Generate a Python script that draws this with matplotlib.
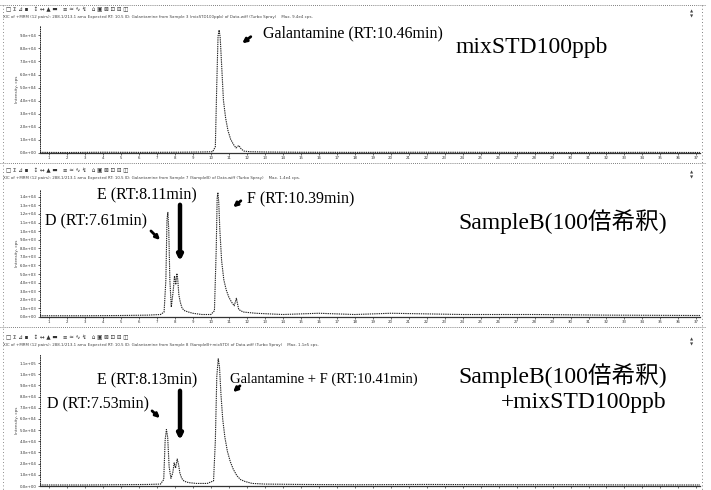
"""Scanned LC-MS/MS chromatograms: mixSTD100ppb, SampleB, SampleB + mixSTD (three stacked XICs)."""

import matplotlib
matplotlib.use("Agg")
import matplotlib.pyplot as plt
import numpy as np
from matplotlib.lines import Line2D
from matplotlib.patches import FancyArrowPatch

# ── Data (time in min, intensity as fraction of full scale) ──
TIME_1 = [0.5, 2.0, 4.0, 6.0, 8.0, 9.5, 10.1, 10.25, 10.33, 10.40, 10.46, 10.52, 10.60,
          10.70, 10.82, 10.95, 11.10, 11.25, 11.40, 11.55, 11.70, 11.85, 12.2, 13.0, 15.0,
          18.0, 22.0, 26.0, 30.0, 34.0, 37.2]
INT_1 = [0.005, 0.004, 0.006, 0.005, 0.006, 0.008, 0.01, 0.05, 0.55, 0.93, 0.98, 0.92, 0.70,
         0.42, 0.28, 0.18, 0.11, 0.07, 0.04, 0.06, 0.03, 0.015, 0.01, 0.008, 0.006,
         0.005, 0.006, 0.005, 0.004, 0.005, 0.004]

TIME_2 = [0.5, 3.0, 5.0, 6.5, 7.2, 7.40, 7.50, 7.56, 7.61, 7.66, 7.72, 7.80, 7.90, 7.98,
          8.05, 8.11, 8.16, 8.22, 8.30, 8.40, 8.55, 8.75, 9.0, 9.5, 10.0, 10.20, 10.30,
          10.35, 10.39, 10.44, 10.50, 10.60, 10.72, 10.85, 11.0, 11.15, 11.30, 11.42, 11.55,
          11.8, 12.5, 14.0, 16.0, 18.0, 20.0, 24.0, 28.0, 32.0, 37.2]
INT_2 = [0.01, 0.01, 0.012, 0.015, 0.02, 0.04, 0.30, 0.78, 0.84, 0.70, 0.30, 0.08, 0.20,
         0.33, 0.26, 0.35, 0.30, 0.18, 0.12, 0.07, 0.05, 0.04, 0.03, 0.02, 0.02, 0.05, 0.55,
         0.95, 1.00, 0.92, 0.70, 0.45, 0.30, 0.22, 0.16, 0.12, 0.09, 0.15, 0.06,
         0.04, 0.03, 0.02, 0.03, 0.02, 0.03, 0.02, 0.02, 0.015, 0.012]

TIME_3 = [0.5, 3.0, 5.0, 6.5, 7.2, 7.38, 7.46, 7.53, 7.60, 7.68, 7.78, 7.88, 7.96, 8.04,
          8.13, 8.20, 8.28, 8.38, 8.50, 8.65, 8.85, 9.2, 9.8, 10.15, 10.25, 10.33, 10.41,
          10.48, 10.56, 10.66, 10.78, 10.92, 11.08, 11.25, 11.45, 11.65, 11.9, 12.3, 13.0,
          15.0, 18.0, 22.0, 26.0, 30.0, 34.0, 37.2]
INT_3 = [0.008, 0.008, 0.01, 0.012, 0.015, 0.05, 0.36, 0.44, 0.38, 0.15, 0.06, 0.10, 0.18,
         0.14, 0.21, 0.17, 0.10, 0.06, 0.04, 0.03, 0.025, 0.02, 0.02, 0.04, 0.35, 0.85, 0.99,
         0.93, 0.72, 0.52, 0.38, 0.27, 0.19, 0.13, 0.08, 0.05, 0.035, 0.02, 0.015,
         0.012, 0.01, 0.012, 0.01, 0.01, 0.008, 0.008]

FULL_SCALE = [9.6e4, 1.45e4, 1.15e5]          # cps at top of each panel
Y_STEP = [1.0e4, 1.0e3, 1.0e4]

SAMPLE_LABELS = ["mixSTD100ppb", "SampleB(100倍希釈)", "SampleB(100倍希釈)\n+mixSTD100ppb"]
HEADERS = [
    "XIC of +MRM (12 pairs): 288.1/213.1 amu Expected RT: 10.5 ID: Galantamine from Sample 3 (mixSTD100ppb) of Data.wiff (Turbo Spray)    Max. 9.4e4 cps.",
    "XIC of +MRM (12 pairs): 288.1/213.1 amu Expected RT: 10.5 ID: Galantamine from Sample 7 (SampleB) of Data.wiff (Turbo Spray)    Max. 1.4e4 cps.",
    "XIC of +MRM (12 pairs): 288.1/213.1 amu Expected RT: 10.5 ID: Galantamine from Sample 8 (SampleB+mixSTD) of Data.wiff (Turbo Spray)    Max. 1.1e5 cps.",
]

W, H = 711, 490
SERIF = ["Liberation Serif", "Noto Sans CJK JP"]


def fx(x):
    return x / W


def fy(y):
    return 1 - y / H


fig = plt.figure(figsize=(W / 100, H / 100), dpi=100)
fig.patch.set_facecolor("white")

# panel boxes in pixels: (top of plot, baseline, header y)
boxes = [(25, 153, 10), (190, 317, 171), (355, 486, 338)]
series = [(TIME_1, INT_1), (TIME_2, INT_2), (TIME_3, INT_3)]

for k, ((top, base, head), (t, inten)) in enumerate(zip(boxes, series)):
    ax = fig.add_axes([fx(40), fy(base), fx(700) - fx(40), (base - top) / H])
    fs = FULL_SCALE[k]
    ax.plot(t, np.array(inten) * fs, color="#222222", lw=0.8, linestyle=(0, (1.2, 0.8)))
    ax.set_xlim(0.5, 37.2)
    ax.set_ylim(0, fs * 1.02)
    for s in ("top", "right"):
        ax.spines[s].set_visible(False)
    ax.spines["left"].set_linestyle(":")
    ax.spines["left"].set_linewidth(0.6)
    ax.spines["bottom"].set_linewidth(0.9)
    ax.spines["bottom"].set_color("#333333")
    ax.set_xticks(np.arange(1, 38, 1))
    ax.set_yticks(np.arange(0, fs, Y_STEP[k]))
    ax.yaxis.set_major_formatter(matplotlib.ticker.FuncFormatter(lambda v, p: f"{v:.1e}"))
    ax.tick_params(labelsize=2.8, length=1.5, width=0.5, pad=1, colors="#333333")
    if k == 2:
        # bottom of the last panel is cut off in the scan
        ax.tick_params(axis="x", labelbottom=False)
    ax.text(-0.035, 0.5, "Intensity, cps", rotation=90, fontsize=3, transform=ax.transAxes,
            ha="center", va="center", color="#444444")
    ax.patch.set_alpha(0)

    # scanned header lines
    fig.text(fx(6), fy(head), "□ Σ ⊿ ▪   ↕ ↔ ▲ ▬   ≡ ≈ ∿ ↯   ⌂ ▣ ⊠ ⊡ ⊟ ◫", fontsize=4,
             va="center", color="#333333")
    fig.text(fx(3), fy(head + 7), HEADERS[k], fontsize=2.9, va="center", color="#444444")
    fig.text(fx(690), fy(head + 4), "▲\n▼", fontsize=3, va="center", color="#444444")

# panel separators / scan borders
for y in (5, 163, 327):
    fig.add_artist(Line2D([fx(0), fx(705)], [fy(y), fy(y)], transform=fig.transFigure,
                          color="#555555", lw=0.6, linestyle=(0, (1, 1.5))))
fig.add_artist(Line2D([fx(702), fx(702)], [fy(5), fy(490)], transform=fig.transFigure,
                      color="#555555", lw=0.6, linestyle=(0, (1, 3))))
fig.add_artist(Line2D([fx(3), fx(3)], [fy(5), fy(490)], transform=fig.transFigure,
                      color="#666666", lw=0.6, linestyle=(0, (1, 3))))


def arrow(x0, y0, x1, y1, lw=2.0, ms=6):
    fig.add_artist(FancyArrowPatch((fx(x0), fy(y0)), (fx(x1), fy(y1)), transform=fig.transFigure,
                                   arrowstyle="-|>", mutation_scale=ms, lw=lw, color="black"))


def label(x, y, s, size=11, ha="left"):
    fig.text(fx(x), fy(y), s, fontsize=size, family=SERIF, va="center", ha=ha)


# panel 1
label(263, 33, "Galantamine (RT:10.46min)", 11.5)
arrow(253, 35, 240, 45)
label(455, 48, SAMPLE_LABELS[0], 17)

# panel 2
label(97, 195, "E (RT:8.11min)", 11.5)
label(45, 221, "D (RT:7.61min)", 11.5)
label(247, 199, "F (RT:10.39min)", 11.5)
arrow(149, 229, 162, 242)
arrow(180, 202, 180, 264, lw=3.2, ms=7)
arrow(243, 199, 231, 209)
label(458, 222, SAMPLE_LABELS[1], 17)

# panel 3
label(97, 380, "E (RT:8.13min)", 11.5)
label(47, 404, "D (RT:7.53min)", 11.5)
label(230, 379, "Galantamine + F (RT:10.41min)", 10.5)
arrow(150, 409, 162, 420)
arrow(180, 388, 180, 443, lw=3.2, ms=7)
arrow(242, 384, 231, 394)
label(667, 388, SAMPLE_LABELS[2], 17, ha="right")

fig.savefig("out.png", dpi=100)
